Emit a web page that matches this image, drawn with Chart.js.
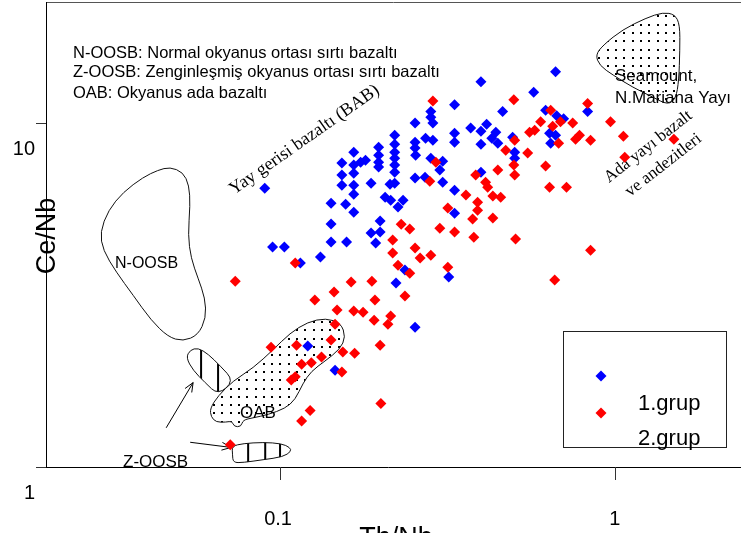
<!DOCTYPE html>
<html>
<head>
<meta charset="utf-8">
<script src="https://cdn.jsdelivr.net/npm/chart.js@4.4.0/dist/chart.umd.min.js"></script>
<style>
  html, body { margin: 0; padding: 0; background: #fff; overflow: hidden; }
  canvas { display: block; }
</style>
</head>
<body>
<canvas id="chart" width="741" height="533"></canvas>
<script>
// Th/Nb vs Ce/Nb (log-log)
const seriesNames = ['1.grup', '2.grup'];

const grup1ThNb = [
  0.090, 0.095, 0.103, 0.115, 0.132, 0.142, 0.142, 0.142, 0.153, 0.153,
  0.153, 0.157, 0.158, 0.166, 0.166, 0.174, 0.166, 0.166, 0.166, 0.166,
  0.180, 0.197, 0.197, 0.197, 0.197, 0.187, 0.187, 0.199, 0.199, 0.193,
  0.213, 0.206, 0.214, 0.233, 0.225, 0.220, 0.220, 0.220, 0.220, 0.220,
  0.220, 0.220, 0.253, 0.253, 0.253, 0.254, 0.253, 0.271, 0.272, 0.282,
  0.282, 0.286, 0.286, 0.282, 0.306, 0.300, 0.306, 0.332, 0.332, 0.332,
  0.332, 0.332, 0.371, 0.398, 0.414, 0.441, 0.429, 0.447, 0.398, 0.398,
  0.462, 0.398, 0.495, 0.502, 0.502, 0.572, 0.665, 0.621, 0.670, 0.703,
  0.829, 0.638, 0.665, 0.643, 0.236, 0.222, 0.319, 0.253, 0.121, 0.146
];
const grup1CeNb = [
  6.47, 4.36, 4.36, 3.92, 4.08, 5.85, 5.09, 4.51, 7.65, 7.06,
  6.60, 5.81, 4.51, 8.23, 7.55, 7.70, 7.15, 6.60, 6.21, 5.51,
  7.80, 8.51, 8.07, 7.70, 7.45, 6.69, 4.79, 5.19, 4.82, 4.48,
  6.64, 6.09, 5.97, 5.97, 5.70, 9.22, 8.68, 8.23, 7.91, 7.55,
  7.20, 6.69, 10.0, 8.80, 8.46, 8.07, 6.92, 6.96, 9.04, 10.8,
  10.4, 10.0, 8.92, 7.91, 7.75, 7.30, 6.73, 6.38, 11.3, 9.35,
  8.80, 5.47, 9.67, 9.47, 9.93, 9.41, 9.04, 8.74, 8.68, 13.2,
  10.8, 7.20, 9.10, 8.23, 7.91, 12.3, 14.1, 10.9, 10.5, 10.3,
  10.8, 9.35, 9.22, 8.74, 3.74, 3.43, 3.57, 2.55, 2.25, 1.91
];

const grup2ThNb = [
  0.286, 0.499, 0.829, 0.643, 0.600, 0.652, 0.688, 0.748, 0.556, 0.576,
  0.784, 0.763, 0.846, 0.970, 1.06, 1.50, 1.07, 0.502, 0.679, 0.472,
  0.549, 0.499, 0.621, 0.447, 0.384, 0.502, 0.638, 0.717, 0.292, 0.280,
  0.411, 0.417, 0.432, 0.456, 0.359, 0.389, 0.389, 0.317, 0.376, 0.432,
  0.300, 0.230, 0.244, 0.332, 0.379, 0.505, 0.846, 0.217, 0.217, 0.253,
  0.262, 0.282, 0.317, 0.225, 0.244, 0.661, 0.188, 0.163, 0.192, 0.236,
  0.191, 0.214, 0.210, 0.199, 0.200, 0.111, 0.0735, 0.145, 0.127, 0.148,
  0.166, 0.177, 0.146, 0.142, 0.112, 0.094, 0.154, 0.167, 0.133, 0.124,
  0.116, 0.153, 0.111, 0.108, 0.123, 0.116, 0.071
];
const grup2CeNb = [
  11.6, 11.7, 11.4, 10.9, 10.1, 9.80, 10.1, 10.0, 9.41, 9.54,
  9.22, 8.98, 8.92, 10.1, 9.16, 8.98, 7.96, 8.92, 8.74, 8.34,
  8.18, 7.55, 7.50, 7.30, 7.06, 7.06, 6.51, 6.51, 7.70, 6.78,
  6.73, 6.51, 6.14, 6.09, 6.18, 5.89, 5.58, 5.66, 5.26, 5.30,
  4.95, 5.08, 4.92, 4.82, 4.66, 4.60, 4.27, 4.57, 4.19, 4.33,
  4.05, 4.13, 3.81, 3.86, 3.66, 3.50, 3.47, 3.45, 3.06, 3.14,
  2.67, 2.75, 2.60, 2.26, 1.53, 3.92, 3.47, 3.23, 3.06, 2.86,
  2.84, 2.82, 2.60, 2.34, 2.26, 2.23, 2.16, 2.14, 2.09, 2.01,
  1.99, 1.89, 1.83, 1.79, 1.46, 1.36, 1.16
];

const xTicks = [0.1, 1];
const xTickLabels = ['0.1', '1'];
const yTicks = [1, 10];
const yTickLabels = ['1', '10'];

// field outlines, in (Th/Nb, Ce/Nb)
const nOosbField = [[0.0469,7.45],[0.0513,7.20],[0.0535,6.60],[0.0539,5.77],[0.0531,4.72],[0.0542,4.05],[0.0569,3.54],[0.0597,3.10],[0.0601,2.71],[0.0569,2.42],[0.0513,2.32],[0.0463,2.39],[0.0412,2.67],[0.0364,3.16],[0.0324,3.69],[0.0296,4.27],[0.0290,4.82],[0.0307,5.58],[0.0340,6.30],[0.0390,6.96],[0.0432,7.30]];
const oabField = [[0.0622,1.40],[0.0618,1.48],[0.0653,1.61],[0.0724,1.78],[0.0831,1.94],[0.0953,2.19],[0.107,2.45],[0.121,2.64],[0.137,2.71],[0.152,2.62],[0.157,2.39],[0.151,2.20],[0.136,2.03],[0.124,1.90],[0.117,1.75],[0.111,1.57],[0.1035,1.48],[0.0921,1.42],[0.0831,1.39],[0.0775,1.37],[0.0765,1.31],[0.0729,1.31],[0.0719,1.36],[0.0690,1.35],[0.0644,1.35]];
const zOosbUpper = [[0.0524,2.08],[0.0539,2.19],[0.0569,2.22],[0.0610,2.13],[0.0662,1.97],[0.0729,1.78],[0.0653,1.62],[0.0597,1.76],[0.0550,1.91]];
const zOosbUpperHatch = [0.0581, 0.0653, 0.0728];
const zOosbLower = [[0.0719,1.15],[0.0775,1.17],[0.0890,1.18],[0.101,1.17],[0.107,1.14],[0.108,1.11],[0.102,1.07],[0.0890,1.05],[0.0775,1.03],[0.0724,1.03],[0.0721,1.09]];
const zOosbLowerHatch = [0.0803, 0.0903, 0.100];
const seamountField = [[0.875,15.8],[0.925,16.9],[1.054,18.7],[1.237,20.2],[1.391,21.0],[1.511,20.7],[1.563,19.3],[1.563,16.3],[1.552,13.3],[1.521,11.8],[1.439,11.3],[1.298,11.9],[1.132,12.7],[0.986,13.8],[0.900,14.7]];
const arrows = [
  [[0.0457,1.30],[0.0550,1.76]],
  [[0.0539,1.18],[0.0714,1.14]]
];

const BLUE = '#0000ff';
const RED = '#ff0000';
const SANS = '"Liberation Sans", Arial, sans-serif';
const SERIF = '"Liberation Serif", "Times New Roman", serif';

function toXY(xs, ys) {
  return xs.map((v, i) => ({ x: v, y: ys[i] }));
}

function toPx(chart, pts) {
  const sx = chart.scales.x, sy = chart.scales.y;
  return pts.map(p => [sx.getPixelForValue(p[0]), sy.getPixelForValue(p[1])]);
}

// closed smooth outline through midpoints
function tracePath(ctx, pts) {
  const n = pts.length;
  const mid = (a, b) => [(a[0] + b[0]) / 2, (a[1] + b[1]) / 2];
  const m0 = mid(pts[n - 1], pts[0]);
  ctx.beginPath();
  ctx.moveTo(m0[0], m0[1]);
  for (let i = 0; i < n; i++) {
    const p = pts[i], m = mid(p, pts[(i + 1) % n]);
    ctx.quadraticCurveTo(p[0], p[1], m[0], m[1]);
  }
  ctx.closePath();
}

function dotFill(ctx, pts, step) {
  const xs = pts.map(p => p[0]), ys = pts.map(p => p[1]);
  ctx.save();
  tracePath(ctx, pts);
  ctx.clip();
  ctx.fillStyle = '#000';
  for (let y = Math.min(...ys) + 3; y < Math.max(...ys); y += step) {
    for (let x = Math.min(...xs) + 3; x < Math.max(...xs); x += step) {
      ctx.fillRect(Math.round(x), Math.round(y), 2, 2);
    }
  }
  ctx.restore();
}

function hatchFill(ctx, chart, pts, xVals) {
  const ys = pts.map(p => p[1]);
  ctx.save();
  tracePath(ctx, pts);
  ctx.clip();
  ctx.strokeStyle = '#000';
  ctx.lineWidth = 2;
  xVals.forEach(v => {
    const px = chart.scales.x.getPixelForValue(v);
    ctx.beginPath();
    ctx.moveTo(px, Math.min(...ys) - 2);
    ctx.lineTo(px, Math.max(...ys) + 2);
    ctx.stroke();
  });
  ctx.restore();
}

function strokeField(ctx, pts) {
  ctx.save();
  ctx.strokeStyle = '#111';
  ctx.lineWidth = 1;
  tracePath(ctx, pts);
  ctx.stroke();
  ctx.restore();
}

function rotText(ctx, text, x, y, deg, font) {
  ctx.save();
  ctx.translate(x, y);
  ctx.rotate(deg * Math.PI / 180);
  ctx.font = font;
  ctx.fillText(text, 0, 0);
  ctx.restore();
}

const fieldsPlugin = {
  id: 'fields',
  beforeDatasetsDraw(chart) {
    const ctx = chart.ctx;
    const nO = toPx(chart, nOosbField);
    const oab = toPx(chart, oabField);
    const zU = toPx(chart, zOosbUpper);
    const zL = toPx(chart, zOosbLower);
    const sm = toPx(chart, seamountField);

    strokeField(ctx, nO);

    hatchFill(ctx, chart, zU, zOosbUpperHatch);
    strokeField(ctx, zU);
    hatchFill(ctx, chart, zL, zOosbLowerHatch);
    strokeField(ctx, zL);

    ctx.save();
    tracePath(ctx, oab);
    ctx.fillStyle = '#fff';
    ctx.fill();
    ctx.restore();
    dotFill(ctx, oab, 8.3);
    strokeField(ctx, oab);

    dotFill(ctx, sm, 8.3);
    strokeField(ctx, sm);

    // arrows
    ctx.save();
    ctx.strokeStyle = '#000';
    ctx.lineWidth = 1;
    arrows.forEach(a => {
      const [p, q] = toPx(chart, a);
      const ang = Math.atan2(q[1] - p[1], q[0] - p[0]);
      ctx.beginPath();
      ctx.moveTo(p[0], p[1]);
      ctx.lineTo(q[0], q[1]);
      [-0.4, 0.4].forEach(d => {
        ctx.moveTo(q[0], q[1]);
        ctx.lineTo(q[0] - 10 * Math.cos(ang + d), q[1] - 10 * Math.sin(ang + d));
      });
      ctx.stroke();
    });
    ctx.restore();

    // field labels
    ctx.save();
    ctx.fillStyle = '#000';
    ctx.textBaseline = 'alphabetic';
    ctx.font = '16px ' + SANS;
    ctx.fillText('N-OOSB', 115, 268);
    ctx.font = '17px ' + SANS;
    ctx.fillText('OAB', 240, 418);
    ctx.fillText('Z-OOSB', 123, 467);
    ctx.fillText('Seamount,', 615, 81);
    ctx.fillText('N.Mariana Yayı', 615, 103);
    rotText(ctx, 'Yay gerisi bazaltı (BAB)', 234, 195, -35, '18px ' + SERIF);
    rotText(ctx, 'Ada yayı bazalt', 609, 183, -38, '17px ' + SERIF);
    rotText(ctx, 've andezitleri', 630, 197, -38, '17px ' + SERIF);

    ctx.font = '16.5px ' + SANS;
    ctx.fillText('N-OOSB: Normal okyanus ortası sırtı bazaltı', 73, 58);
    ctx.fillText('Z-OOSB: Zenginleşmiş okyanus ortası sırtı bazaltı', 73, 77);
    ctx.fillText('OAB: Okyanus ada bazaltı', 73, 98);
    ctx.restore();
  }
};

const framePlugin = {
  id: 'frame',
  afterDraw(chart) {
    const ctx = chart.ctx;
    const a = chart.chartArea;
    const sx = chart.scales.x, sy = chart.scales.y;
    ctx.save();

    // frame
    ctx.strokeStyle = '#555';
    ctx.lineWidth = 1;
    ctx.beginPath();
    ctx.moveTo(a.left, a.top + 0.5);
    ctx.lineTo(a.right, a.top + 0.5);
    ctx.stroke();
    ctx.strokeStyle = '#000';
    ctx.beginPath();
    ctx.moveTo(a.left + 0.5, a.top);
    ctx.lineTo(a.left + 0.5, a.bottom);
    ctx.moveTo(a.left - 10, a.bottom + 0.5);
    ctx.lineTo(a.right, a.bottom + 0.5);
    ctx.stroke();

    // ticks
    ctx.strokeStyle = '#333';
    ctx.beginPath();
    yTicks.forEach(v => {
      const py = Math.round(sy.getPixelForValue(v)) + 0.5;
      ctx.moveTo(a.left - 10, py);
      ctx.lineTo(a.left, py);
    });
    xTicks.forEach(v => {
      const px = Math.round(sx.getPixelForValue(v)) + 0.5;
      ctx.moveTo(px, a.bottom);
      ctx.lineTo(px, a.bottom + 13);
    });
    ctx.stroke();

    // tick labels
    ctx.fillStyle = '#000';
    ctx.font = '20px ' + SANS;
    ctx.textAlign = 'right';
    ctx.textBaseline = 'alphabetic';
    yTicks.forEach((v, i) => {
      ctx.fillText(yTickLabels[i], a.left - 11, sy.getPixelForValue(v) + 32);
    });
    ctx.textAlign = 'center';
    xTicks.forEach((v, i) => {
      ctx.fillText(xTickLabels[i], sx.getPixelForValue(v) - (i === 0 ? 2 : 0), a.bottom + 58);
    });

    // axis titles
    ctx.font = '27px ' + SANS;
    ctx.fillText('Th/Nb', 396, 546);
    ctx.save();
    ctx.translate(55, 236);
    ctx.rotate(-Math.PI / 2);
    ctx.fillText('Ce/Nb', 0, 0);
    ctx.restore();

    // legend
    ctx.fillStyle = '#fff';
    ctx.fillRect(563, 331, 163, 116);
    ctx.strokeStyle = '#222';
    ctx.strokeRect(563.5, 331.5, 163, 116);
    const marker = (x, y, c) => {
      ctx.fillStyle = c;
      ctx.beginPath();
      ctx.moveTo(x, y - 5.5);
      ctx.lineTo(x + 5.5, y);
      ctx.lineTo(x, y + 5.5);
      ctx.lineTo(x - 5.5, y);
      ctx.closePath();
      ctx.fill();
    };
    marker(601, 376, BLUE);
    marker(601, 413, RED);
    ctx.fillStyle = '#000';
    ctx.font = '22px ' + SANS;
    ctx.textAlign = 'left';
    ctx.fillText(seriesNames[0], 638, 410);
    ctx.fillText(seriesNames[1], 638, 445);

    ctx.restore();
  }
};

new Chart(document.getElementById('chart'), {
  type: 'scatter',
  data: {
    datasets: [
      {
        label: seriesNames[0],
        data: toXY(grup1ThNb, grup1CeNb),
        pointStyle: 'rectRot',
        pointRadius: 5.5,
        borderWidth: 0,
        backgroundColor: BLUE,
        order: 1
      },
      {
        label: seriesNames[1],
        data: toXY(grup2ThNb, grup2CeNb),
        pointStyle: 'rectRot',
        pointRadius: 5.5,
        borderWidth: 0,
        backgroundColor: RED,
        order: 0
      }
    ]
  },
  options: {
    responsive: false,
    animation: false,
    layout: { autoPadding: false, padding: { left: 46, top: 2, right: 0, bottom: 66 } },
    scales: {
      x: { type: 'logarithmic', min: 0.02, max: 2.38, display: false },
      y: { type: 'logarithmic', min: 1, max: 22.5, display: false }
    },
    plugins: {
      legend: { display: false },
      tooltip: { enabled: false }
    }
  },
  plugins: [fieldsPlugin, framePlugin]
});
</script>
</body>
</html>
